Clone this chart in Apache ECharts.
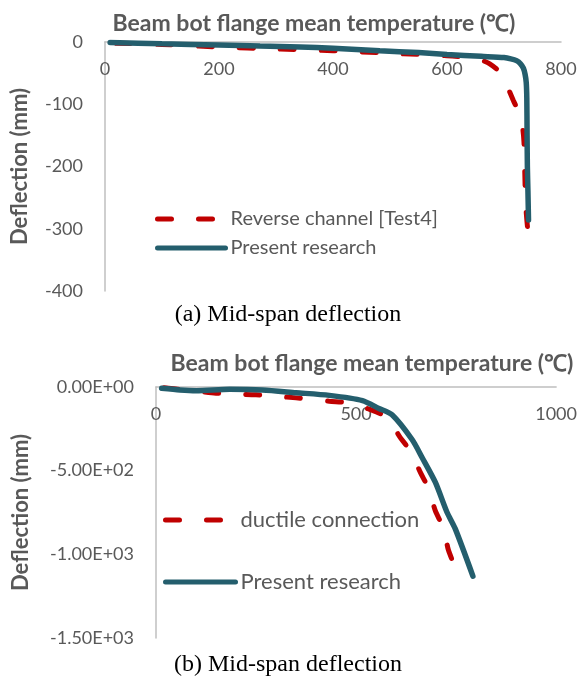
<!DOCTYPE html>
<html>
<head>
<meta charset="utf-8">
<script src="https://cdn.jsdelivr.net/npm/echarts@6/dist/echarts.min.js"></script>
<style>
  html, body { margin: 0; padding: 0; background: #ffffff; }
  #chart { width: 580px; height: 677px; }
</style>
</head>
<body>
<div id="chart"></div>
<script>
// Shared text
const xAxisTitle = 'Beam bot flange mean temperature (℃)';
const yAxisTitle = 'Deflection (mm)';
const captionA = '(a) Mid-span deflection';
const captionB = '(b) Mid-span deflection';

// Panel (a): temperature (℃) vs mid-span deflection (mm)
const nameTestA = 'Reverse channel [Test4]';
const nameModelA = 'Present research';
const testA = [
  [20, -2], [100, -4], [200, -8], [300, -11], [400, -14], [500, -18],
  [600, -22], [640, -25], [660, -29], [675, -35], [690, -46], [700, -60],
  [716, -93], [728, -118], [733, -140], [735, -160], [736, -190],
  [737, -230], [738, -260], [740, -285], [742, -305]
];
const modelA = [
  [9, -1], [100, -3], [200, -5], [272, -6.5], [342, -8], [400, -10],
  [482, -14], [550, -17], [600, -20], [660, -23], [700, -25], [712, -27],
  [722, -30], [729, -35], [734, -42], [737, -52], [739, -65], [740, -90],
  [740.5, -150], [741, -200], [742, -240], [743, -286]
];
const xTicksA = [0, 200, 400, 600, 800];
const yTicksA = [0, -100, -200, -300, -400];

// Panel (b): temperature (℃) vs mid-span deflection (mm)
const nameTestB = 'ductile connection';
const nameModelB = 'Present research';
const testB = [
  [20, -5], [100, -25], [150, -37], [250, -47], [350, -65], [433, -85],
  [483, -95], [530, -130], [577, -182], [611, -304], [636, -383],
  [661, -512], [682, -611], [698, -739], [719, -848], [731, -976],
  [752, -1100]
];
const modelB = [
  [14, -8], [60, -18], [101, -22], [184, -14], [266, -18], [350, -34],
  [433, -50], [516, -81], [557, -128], [590, -166], [640, -314],
  [665, -421], [698, -569], [727, -747], [748, -848], [792, -1130]
];
const xTicksB = [0, 500, 1000];
const yTicksB = [0, -500, -1000, -1500];
const yTickLabelsB = ['0.00E+00', '-5.00E+02', '-1.00E+03', '-1.50E+03'];

const TEAL = '#245E6D';
const RED = '#C00000';
const TEXT = '#595959';
const AXIS = '#BFBFBF';
const FONT = 'Lato';

function stepOf(ticks) { return Math.abs(ticks[1] - ticks[0]); }
function minOf(ticks) { return Math.min.apply(null, ticks); }
function maxOf(ticks) { return Math.max.apply(null, ticks); }

// Temperature axis sits on the zero-deflection line (top edge), labels hang below it
function xAxisFor(gridIndex, ticks) {
  return {
    type: 'value', gridIndex: gridIndex,
    min: minOf(ticks), max: maxOf(ticks), interval: stepOf(ticks),
    position: 'top',
    axisLine: { show: true, onZero: false, lineStyle: { color: AXIS, width: 1.5 } },
    axisTick: { show: false },
    splitLine: { show: false },
    axisLabel: {
      inside: true, color: TEXT, fontFamily: FONT, fontSize: 18, margin: 18,
      formatter: function (v) { return String(v); }
    }
  };
}

function yAxisFor(gridIndex, ticks, labels, gap) {
  return {
    type: 'value', gridIndex: gridIndex,
    min: minOf(ticks), max: maxOf(ticks), interval: stepOf(ticks),
    axisLine: { show: true, onZero: false, lineStyle: { color: AXIS, width: 1.5 } },
    axisTick: { show: false },
    splitLine: { show: false },
    axisLabel: {
      color: TEXT, fontFamily: FONT, fontSize: 18, margin: 22,
      formatter: function (v) {
        if (!labels) return String(v);
        const i = ticks.indexOf(v);
        return i >= 0 ? labels[i] : '';
      }
    },
    name: yAxisTitle, nameLocation: 'middle', nameGap: gap, nameRotate: 90,
    nameTextStyle: { color: TEXT, fontFamily: FONT, fontSize: 22, fontWeight: 'bold' }
  };
}

function testSeries(name, idx, data) {
  return {
    name: name, type: 'line', xAxisIndex: idx, yAxisIndex: idx, data: data,
    showSymbol: false, symbol: 'none', smooth: 0.25, z: 2,
    lineStyle: { color: RED, width: 5, type: [14, 27], cap: 'round' },
    itemStyle: { color: RED }
  };
}

function modelSeries(name, idx, data) {
  return {
    name: name, type: 'line', xAxisIndex: idx, yAxisIndex: idx, data: data,
    showSymbol: false, symbol: 'none', smooth: 0.25, z: 3,
    lineStyle: { color: TEAL, width: 5.5, cap: 'round' },
    itemStyle: { color: TEAL }
  };
}

function legendFor(names, left, top, width, gap, fontSize) {
  return {
    data: names, orient: 'vertical', left: left, top: top,
    itemWidth: width, itemHeight: 14, itemGap: gap,
    itemStyle: { opacity: 0 },
    lineStyle: { width: 5, cap: 'round' },
    textStyle: { color: TEXT, fontFamily: FONT, fontSize: fontSize }
  };
}

const chart = echarts.init(document.getElementById('chart'), null, { renderer: 'canvas' });

chart.setOption({
  animation: false,
  backgroundColor: '#ffffff',
  title: [
    { text: xAxisTitle, left: 309, top: 7, textAlign: 'center',
      textStyle: { color: TEXT, fontFamily: FONT, fontSize: 23, fontWeight: 'bold' } },
    { text: xAxisTitle, left: 367, top: 347, textAlign: 'center',
      textStyle: { color: TEXT, fontFamily: FONT, fontSize: 23, fontWeight: 'bold' } },
    { text: captionA, left: 283, top: 298, textAlign: 'center',
      textStyle: { color: '#000000', fontFamily: 'Liberation Serif', fontSize: 24, fontWeight: 'normal' } },
    { text: captionB, left: 283, top: 648, textAlign: 'center',
      textStyle: { color: '#000000', fontFamily: 'Liberation Serif', fontSize: 24, fontWeight: 'normal' } }
  ],
  grid: [
    { left: 105, top: 42, width: 456, height: 249 },
    { left: 156, top: 387, width: 402, height: 251 }
  ],
  xAxis: [xAxisFor(0, xTicksA), xAxisFor(1, xTicksB)],
  yAxis: [yAxisFor(0, yTicksA, null, 74), yAxisFor(1, yTicksB, yTickLabelsB, 124)],
  legend: [
    legendFor([nameTestA, nameModelA], 150, 204, 68, 9, 20),
    legendFor([nameTestB, nameModelB], 158, 504, 70, 40, 22)
  ],
  series: [
    testSeries(nameTestA, 0, testA),
    modelSeries(nameModelA, 0, modelA),
    testSeries(nameTestB, 1, testB),
    modelSeries(nameModelB, 1, modelB)
  ]
});
</script>
</body>
</html>
